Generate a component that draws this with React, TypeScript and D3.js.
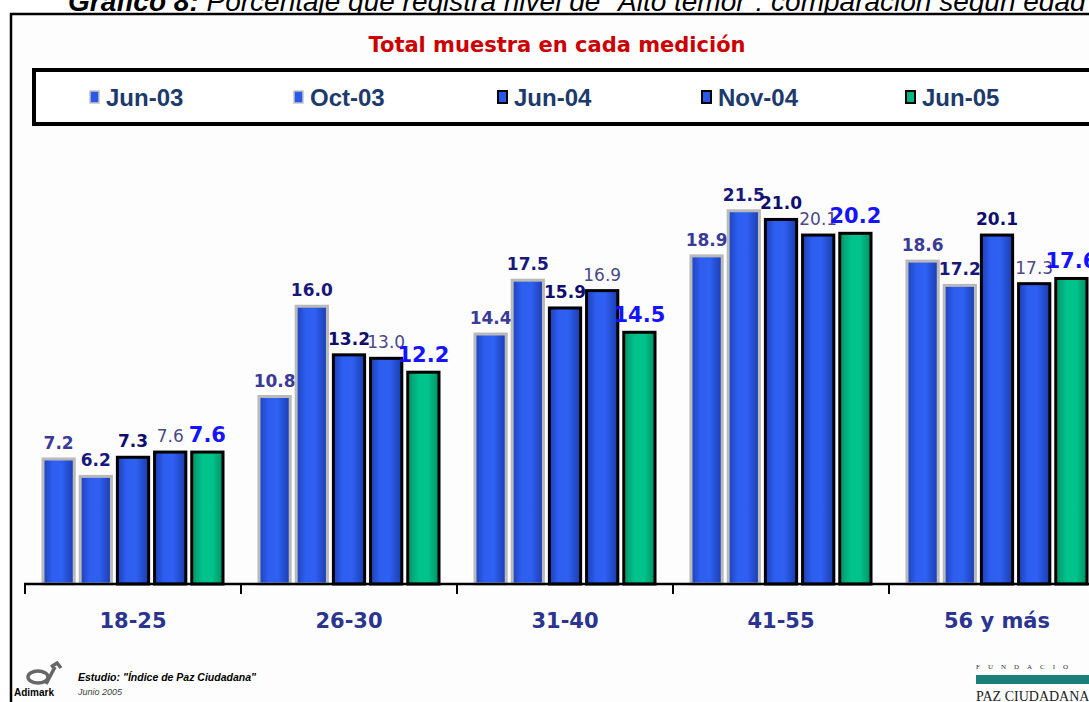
import React from "react";
import * as d3 from "d3";

const categories = ["18-25", "26-30", "31-40", "41-55", "56 y más"];
const seriesNames = ["Jun-03", "Oct-03", "Jun-04", "Nov-04", "Jun-05"];
const jun03 = [7.2, 10.8, 14.4, 18.9, 18.6];
const oct03 = [6.2, 16.0, 17.5, 21.5, 17.2];
const jun04 = [7.3, 13.2, 15.9, 21.0, 20.1];
const nov04 = [7.6, 13.0, 16.9, 20.1, 17.3];
const jun05 = [7.6, 12.2, 14.5, 20.2, 17.6];
const seriesValues = [jun03, oct03, jun04, nov04, jun05];

const W = 1089;
const H = 702;

const barStroke = ["#b9b9b9", "#b9b9b9", "#000", "#000", "#000"];
const barFill = ["url(#gBlue)", "url(#gBlue)", "url(#gBlue)", "url(#gBlue)", "url(#gGreen)"];
const labelStyle = [
  { fill: "#3a3a98", weight: 700, size: 17 },
  { fill: "#18187a", weight: 700, size: 17 },
  { fill: "#0e0e6c", weight: 700, size: 17 },
  { fill: "#4a4a86", weight: 400, size: 17 },
  { fill: "#1414ff", weight: 700, size: 21 },
];

export default function App() {
  const x0 = d3.scaleBand<string>().domain(categories).range([25, 25 + 216 * 5]).padding(0);
  const x1 = d3.scaleBand<string>().domain(seriesNames).range([18, 198]).paddingInner(0.16).paddingOuter(0);
  const y = d3.scaleLinear().domain([0, 25]).range([584, 150]);
  const legendX = d3.scaleLinear().domain([0, 4]).range([89, 89 + 204 * 4]);
  const font = "'DejaVu Sans', Verdana, sans-serif";
  const arial = "'Liberation Sans', Arial, sans-serif";

  return (
    <svg width={W} height={H} style={{ position: "absolute", left: 0, top: 0, background: "#fff" }}>
      <defs>
        <linearGradient id="gBlue" x1="0" x2="1" y1="0" y2="0">
          <stop offset="0" stopColor="#1c40b8" />
          <stop offset="0.3" stopColor="#2e5ef0" />
          <stop offset="0.6" stopColor="#2f60f2" />
          <stop offset="1" stopColor="#1a3cae" />
        </linearGradient>
        <linearGradient id="gGreen" x1="0" x2="1" y1="0" y2="0">
          <stop offset="0" stopColor="#009468" />
          <stop offset="0.35" stopColor="#00c28a" />
          <stop offset="0.65" stopColor="#00c48c" />
          <stop offset="1" stopColor="#009066" />
        </linearGradient>
      </defs>
      {/* header title (clipped at top in the original) */}
      <text x={68} y={11} fontFamily={arial} fontSize={28} fontStyle="italic" fill="#000">
        <tspan fontWeight={700}>Gráfico 8:</tspan>
        <tspan> Porcentaje que registra nivel de "Alto temor": comparación según edad</tspan>
      </text>
      {/* outer frame */}
      <rect x={11} y={14} width={1200} height={800} fill="#fdfdfd" stroke="#000" strokeWidth={2.5} />
      {/* subtitle */}
      <text x={557} y={52} textAnchor="middle" fontFamily={font} fontWeight={700} fontSize={21} fill="#cc0000">
        Total muestra en cada medición
      </text>
      {/* legend box */}
      <rect x={34} y={70} width={1200} height={54} fill="#fff" stroke="#000" strokeWidth={4} />
      {seriesNames.map((s, i) => (
        <g key={s} transform={`translate(${legendX(i)},0)`}>
          <rect x={1} y={91} width={9} height={12} fill={i === 4 ? "#00b884" : "#2a58e8"} stroke={i < 2 ? "#c4c4c4" : "#000"} strokeWidth={i < 2 ? 1.5 : 2} />
          <text x={17} y={106} fontFamily={arial} fontWeight={700} fontSize={24} fill="#1c3a6c">
            {s}
          </text>
        </g>
      ))}
      {/* bars */}
      {categories.map((c, ci) => (
        <g key={c} transform={`translate(${x0(c)},0)`}>
          {seriesNames.map((s, si) => {
            const v = seriesValues[si][ci];
            const bx = x1(s)!;
            const bw = x1.bandwidth();
            return (
              <g key={s}>
                <rect x={bx} y={y(v)} width={bw} height={y(0) - y(v)} fill={barFill[si]} stroke={barStroke[si]} strokeWidth={3} />
                <text
                  x={bx + bw / 2}
                  y={y(v) - 10}
                  textAnchor="middle"
                  fontFamily={font}
                  fontWeight={labelStyle[si].weight}
                  fontSize={labelStyle[si].size}
                  fill={labelStyle[si].fill}
                >
                  {v.toFixed(1)}
                </text>
              </g>
            );
          })}
        </g>
      ))}
      {/* x axis */}
      <line x1={24} x2={W} y1={y(0)} y2={y(0)} stroke="#000" strokeWidth={2.5} />
      {categories.map((c) => (
        <line key={c} x1={x0(c)} x2={x0(c)} y1={y(0)} y2={y(0) + 10} stroke="#000" strokeWidth={2} />
      ))}
      {categories.map((c) => (
        <text key={c} x={x0(c)! + x0.bandwidth() / 2} y={628} textAnchor="middle" fontFamily={font} fontWeight={700} fontSize={21} fill="#2b3590">
          {c}
        </text>
      ))}
      {/* footer left */}
      <g>
        <ellipse cx={38} cy={677} rx={10} ry={6} fill="none" stroke="#666" strokeWidth={3.5} />
        <path d="M46 684 L55 667 M51 667 l6 -4 l4 5" fill="none" stroke="#666" strokeWidth={3.5} />
        <text x={14} y={696} fontFamily={arial} fontWeight={700} fontSize={10} fill="#000">
          Adimark
        </text>
        <text x={78} y={681} fontFamily={arial} fontWeight={700} fontStyle="italic" fontSize={10.5} fill="#000">
          Estudio: "Índice de Paz Ciudadana"
        </text>
        <text x={78} y={695} fontFamily={arial} fontStyle="italic" fontSize={9} fill="#444">
          Junio 2005
        </text>
      </g>
      {/* footer right */}
      <g>
        <text x={976} y={669} fontFamily="'Liberation Serif', serif" fontSize={7} letterSpacing={8} fill="#333">
          FUNDACIO
        </text>
        <rect x={976} y={675} width={130} height={9} fill="#1a7f78" />
        <text x={976} y={701} fontFamily="'Liberation Serif', serif" fontSize={14} fill="#222">
          PAZ CIUDADANA
        </text>
      </g>
    </svg>
  );
}
